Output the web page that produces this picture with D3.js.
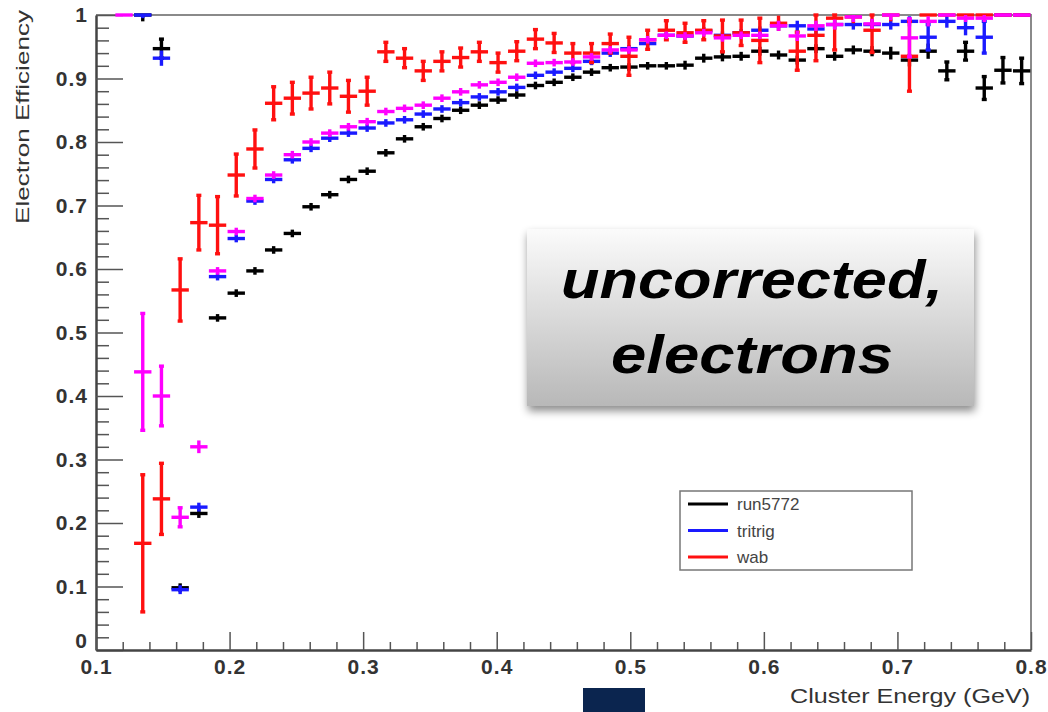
<!DOCTYPE html>
<html>
<head>
<meta charset="utf-8">
<script src="https://cdn.jsdelivr.net/npm/d3@7"></script>
<style>
    body {margin: 0; background: #fff;}
    svg {display: block;}
    text {font-family: "Liberation Sans", Arial, Helvetica, sans-serif;}
</style>
</head>
<body>
<svg id="svg_main"></svg>
<script>
// bin centres (GeV), 50 bins of 14 MeV from 0.1 to 0.8
const energy = [0.107, 0.121, 0.135, 0.149, 0.163, 0.177, 0.191, 0.205, 0.219, 0.233,
    0.247, 0.261, 0.275, 0.289, 0.303, 0.317, 0.331, 0.345, 0.359, 0.373,
    0.387, 0.401, 0.415, 0.429, 0.443, 0.457, 0.471, 0.485, 0.499, 0.513,
    0.527, 0.541, 0.555, 0.569, 0.583, 0.597, 0.611, 0.625, 0.639, 0.653,
    0.667, 0.681, 0.695, 0.709, 0.723, 0.737, 0.751, 0.765, 0.779, 0.793];

const run5772 = [null, null, 1.0, 0.947, 0.098, 0.215, 0.523, 0.562, 0.597, 0.63,
    0.656, 0.698, 0.717, 0.741, 0.754, 0.783, 0.805, 0.824, 0.837, 0.85,
    0.858, 0.866, 0.874, 0.889, 0.894, 0.902, 0.91, 0.917, 0.918, 0.92,
    0.92, 0.921, 0.932, 0.934, 0.935, 0.943, 0.937, 0.929, 0.947, 0.935,
    0.945, 0.943, 0.94, 0.929, 0.943, 0.912, 0.943, 0.885, 0.913, 0.912];
const run5772Err = [0, 0, 0.01, 0.015, 0.007, 0.007, 0.006, 0.006, 0.006, 0.006,
    0.006, 0.006, 0.006, 0.006, 0.006, 0.006, 0.006, 0.006, 0.006, 0.006,
    0.006, 0.006, 0.006, 0.006, 0.006, 0.006, 0.006, 0.006, 0.006, 0.006,
    0.006, 0.007, 0.007, 0.007, 0.007, 0.007, 0.007, 0.007, 0.007, 0.007,
    0.007, 0.008, 0.01, 0.01, 0.012, 0.014, 0.014, 0.018, 0.02, 0.02];

const tritrig = [null, null, 1.0, 0.932, 0.095, 0.225, 0.588, 0.648, 0.707, 0.741,
    0.772, 0.79, 0.806, 0.814, 0.822, 0.83, 0.835, 0.844, 0.852, 0.862,
    0.871, 0.879, 0.886, 0.905, 0.91, 0.916, 0.927, 0.94, 0.947, 0.955,
    0.968, 0.967, 0.975, 0.968, 0.972, 0.976, 0.983, 0.983, 0.978, 0.985,
    0.985, 0.985, 0.985, 0.99, 0.965, 0.99, 0.98, 0.965, 1.0, 1.0];
const tritrigErr = [0, 0, 0.005, 0.012, 0.007, 0.007, 0.006, 0.006, 0.006, 0.006,
    0.006, 0.006, 0.006, 0.006, 0.006, 0.006, 0.006, 0.006, 0.006, 0.006,
    0.006, 0.006, 0.006, 0.006, 0.006, 0.006, 0.006, 0.006, 0.006, 0.006,
    0.006, 0.006, 0.006, 0.006, 0.006, 0.006, 0.008, 0.008, 0.008, 0.008,
    0.008, 0.008, 0.008, 0.008, 0.02, 0.01, 0.012, 0.025, 0, 0];

const wab = [null, null, 0.168, 0.238, 0.567, 0.673, 0.669, 0.748, 0.789, 0.861,
    0.869, 0.877, 0.885, 0.872, 0.88, 0.942, 0.932, 0.912, 0.927, 0.933,
    0.942, 0.925, 0.943, 0.962, 0.956, 0.94, 0.94, 0.955, 0.935, 0.961,
    0.976, 0.972, 0.976, 0.967, 0.972, 0.96, 0.987, 0.943, 0.968, 0.995,
    0.997, 0.976, 1.0, 0.935, 1.0, 1.0, 1.0, 1.0, 1.0, 1.0];
const wabErr = [0, 0, 0.108, 0.056, 0.049, 0.043, 0.045, 0.033, 0.03, 0.026,
    0.025, 0.025, 0.025, 0.025, 0.022, 0.015, 0.015, 0.015, 0.015, 0.015,
    0.015, 0.015, 0.015, 0.015, 0.015, 0.015, 0.015, 0.015, 0.03, 0.015,
    0.015, 0.015, 0.015, 0.025, 0.02, 0.035, 0.012, 0.03, 0.04, 0.05,
    0.01, 0.035, 0.01, 0.055, 0, 0, 0, 0, 0, 0];

// fourth (magenta) histogram, not in the legend
const magenta = [null, 1.0, 0.438, 0.40, 0.209, 0.32, 0.597, 0.659, 0.711, 0.748,
    0.78, 0.80, 0.814, 0.824, 0.832, 0.848, 0.853, 0.858, 0.869, 0.879,
    0.89, 0.894, 0.902, 0.924, 0.925, 0.926, 0.934, 0.945, 0.945, 0.961,
    0.968, 0.967, 0.972, 0.964, 0.968, 0.968, 0.983, 0.967, 0.983, 0.985,
    0.997, 0.986, 1.0, 0.964, 0.99, 1.0, 0.995, 0.995, 1.0, 1.0];
const magentaErr = [0, 0, 0.092, 0.047, 0.015, 0.01, 0.006, 0.006, 0.006, 0.006,
    0.006, 0.006, 0.006, 0.006, 0.006, 0.006, 0.006, 0.006, 0.006, 0.006,
    0.006, 0.006, 0.006, 0.006, 0.006, 0.006, 0.006, 0.006, 0.006, 0.006,
    0.006, 0.006, 0.006, 0.006, 0.006, 0.006, 0.008, 0.008, 0.008, 0.008,
    0.008, 0.008, 0.008, 0.03, 0.008, 0, 0.006, 0.006, 0, 0];

const legendNames = ['run5772', 'tritrig', 'wab'];
const xTicks = [0.1, 0.2, 0.3, 0.4, 0.5, 0.6, 0.7, 0.8];
const yTicks = [0, 0.1, 0.2, 0.3, 0.4, 0.5, 0.6, 0.7, 0.8, 0.9, 1];
const boxLines = ['uncorrected,', 'electrons'];

const width = 1048, height = 712;
const binHalf = 0.0065;

const svg = d3.select('#svg_main')
    .attr('width', width)
    .attr('height', height);

const x = d3.scaleLinear().domain([0.1, 0.8]).range([96, 1031]);
const y = d3.scaleLinear().domain([0, 1]).range([650, 15]);

const defs = svg.append('defs');
const grad = defs.append('linearGradient').attr('id', 'boxgrad')
    .attr('x1', 0).attr('y1', 0).attr('x2', 0).attr('y2', 1);
grad.append('stop').attr('offset', '0%').attr('stop-color', '#fbfbfb');
grad.append('stop').attr('offset', '100%').attr('stop-color', '#b8b8b8');
defs.append('filter').attr('id', 'shadow')
    .attr('x', '-10%').attr('y', '-10%').attr('width', '125%').attr('height', '135%')
    .append('feDropShadow')
    .attr('dx', 1).attr('dy', 5).attr('stdDeviation', 4)
    .attr('flood-color', '#000').attr('flood-opacity', 0.45);

// minor ticks
const minorY = d3.range(0, 50).map(i => i * 0.02).filter(v => Math.abs(v * 10 - Math.round(v * 10)) > 1e-6);
const minorX = d3.range(0, 35).map(i => 0.1 + i * 0.02).filter(v => Math.abs(v * 10 - Math.round(v * 10)) > 1e-6);

svg.append('g')
    .attr('transform', 'translate(96,0)')
    .call(d3.axisLeft(y).tickValues(minorY).tickSize(-13).tickSizeOuter(0).tickFormat(''))
    .call(g => g.select('.domain').remove())
    .call(g => g.selectAll('line').attr('stroke', '#555').attr('stroke-width', 1.5));
svg.append('g')
    .attr('transform', 'translate(0,650)')
    .call(d3.axisBottom(x).tickValues(minorX).tickSize(-8).tickSizeOuter(0).tickFormat(''))
    .call(g => g.select('.domain').remove())
    .call(g => g.selectAll('line').attr('stroke', '#555').attr('stroke-width', 1.5));

// frame
svg.append('path')
    .attr('d', `M96,15H1031V650`)
    .attr('fill', 'none')
    .attr('stroke', '#8a8a8a')
    .attr('stroke-width', 2);

const yAxis = svg.append('g')
    .attr('transform', 'translate(96,0)')
    .call(d3.axisLeft(y).tickValues(yTicks).tickSize(-27).tickSizeOuter(0).tickPadding(8)
        .tickFormat(d => d === 0 ? '0' : d === 1 ? '1' : d3.format('.1f')(d)));
const xAxis = svg.append('g')
    .attr('transform', 'translate(0,650)')
    .call(d3.axisBottom(x).tickValues(xTicks).tickSize(-18).tickSizeOuter(0).tickPadding(9)
        .tickFormat(d3.format('.1f')));
[xAxis, yAxis].forEach(g => {
    g.select('.domain').attr('stroke', '#444').attr('stroke-width', 2.5);
    g.selectAll('line').attr('stroke', '#555').attr('stroke-width', 1.5);
    g.selectAll('text')
        .attr('fill', '#333')
        .style('font-size', '21px')
        .style('font-weight', 'bold')
        .style('letter-spacing', '1px');
});
// the "0" of the y axis sits just above the first x label
yAxis.selectAll('.tick').filter(d => d === 0).select('text').attr('dy', '-0.1em');

svg.append('text')
    .attr('transform', 'translate(29,10) rotate(-90)')
    .attr('text-anchor', 'end')
    .attr('fill', '#333')
    .style('font-size', '18px')
    .attr('textLength', 214)
    .attr('lengthAdjust', 'spacingAndGlyphs')
    .text('Electron Efficiency');

svg.append('text')
    .attr('x', 1030).attr('y', 703)
    .attr('text-anchor', 'end')
    .attr('fill', '#333')
    .style('font-size', '20px')
    .attr('textLength', 240)
    .attr('lengthAdjust', 'spacingAndGlyphs')
    .text('Cluster Energy (GeV)');

// histograms with error bars
const series = [
    {name: 'run5772', values: run5772, errs: run5772Err, color: '#000000'},
    {name: 'tritrig', values: tritrig, errs: tritrigErr, color: '#1a1aff'},
    {name: 'wab', values: wab, errs: wabErr, color: '#ff1010'},
    {name: 'magenta', values: magenta, errs: magentaErr, color: '#ff00ff'}
];

series.forEach(s => {
    const pts = energy.map((e, i) => ({e, v: s.values[i], err: s.errs[i]})).filter(d => d.v !== null);
    const g = svg.append('g')
        .attr('class', 'hist')
        .attr('stroke', s.color)
        .attr('stroke-width', 3.4);
    g.selectAll('line.h')
        .data(pts)
        .join('line')
        .attr('class', 'h')
        .attr('x1', d => x(d.e - binHalf))
        .attr('x2', d => x(d.e + binHalf))
        .attr('y1', d => y(d.v))
        .attr('y2', d => y(d.v));
    g.selectAll('line.v')
        .data(pts.filter(d => d.err > 0))
        .join('line')
        .attr('class', 'v')
        .attr('x1', d => x(d.e))
        .attr('x2', d => x(d.e))
        .attr('y1', d => y(Math.min(1, d.v + d.err)))
        .attr('y2', d => y(Math.max(0, d.v - d.err)));
    // small end caps on the long bars
    const capped = pts.filter(d => d.err > 0.012);
    g.selectAll('line.ct')
        .data(capped)
        .join('line')
        .attr('class', 'ct')
        .attr('x1', d => x(d.e) - 2.5).attr('x2', d => x(d.e) + 2.5)
        .attr('y1', d => y(Math.min(1, d.v + d.err))).attr('y2', d => y(Math.min(1, d.v + d.err)));
    g.selectAll('line.cb')
        .data(capped)
        .join('line')
        .attr('class', 'cb')
        .attr('x1', d => x(d.e) - 2.5).attr('x2', d => x(d.e) + 2.5)
        .attr('y1', d => y(d.v - d.err)).attr('y2', d => y(d.v - d.err));
});

// legend
const legend = svg.append('g').attr('transform', 'translate(680,491)');
legend.append('rect')
    .attr('width', 232).attr('height', 79)
    .attr('fill', '#fff')
    .attr('stroke', '#777')
    .attr('stroke-width', 1.5);
legend.selectAll('g.item')
    .data(legendNames)
    .join('g')
    .attr('class', 'item')
    .attr('transform', (d, i) => `translate(0,${13 + i * 26.5})`)
    .each(function (d) {
        const s = series.find(t => t.name === d);
        const it = d3.select(this);
        it.append('line')
            .attr('x1', 8).attr('x2', 48)
            .attr('stroke', s.color).attr('stroke-width', 3);
        it.append('text')
            .attr('x', 57).attr('y', 6)
            .attr('fill', '#444')
            .style('font-size', '17px')
            .text(d);
    });

// annotation box
const box = svg.append('g');
box.append('rect')
    .attr('x', 527).attr('y', 229)
    .attr('width', 447).attr('height', 177)
    .attr('fill', 'url(#boxgrad)')
    .attr('filter', 'url(#shadow)');
box.selectAll('text')
    .data(boxLines)
    .join('text')
    .attr('x', 752)
    .attr('y', (d, i) => 298 + i * 75)
    .attr('text-anchor', 'middle')
    .attr('fill', '#000')
    .style('font-size', '54px')
    .style('font-weight', 'bold')
    .style('font-style', 'italic')
    .attr('textLength', (d, i) => i === 0 ? 382 : 282)
    .attr('lengthAdjust', 'spacingAndGlyphs')
    .text(d => d);

// slide footer block
svg.append('rect')
    .attr('x', 583).attr('y', 688)
    .attr('width', 62).attr('height', 24)
    .attr('fill', '#0b254f');
</script>
</body>
</html>
